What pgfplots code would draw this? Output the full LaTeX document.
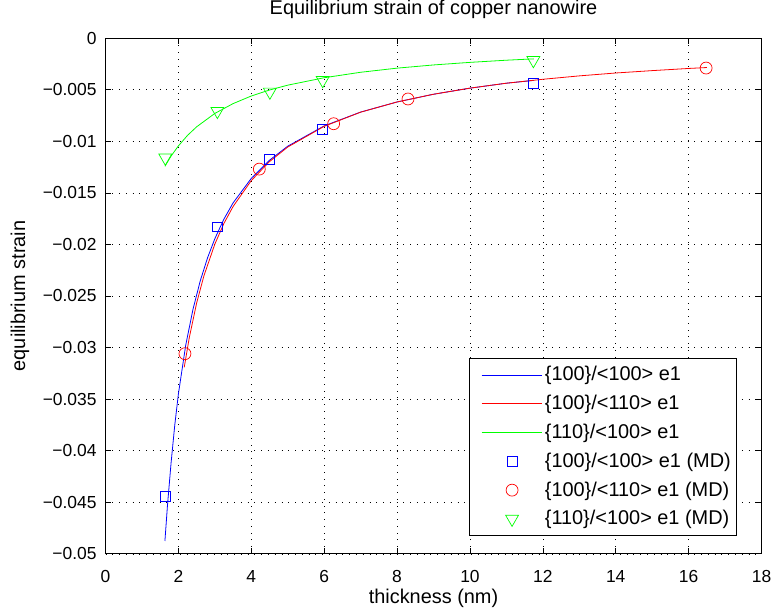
\documentclass[border=0pt]{standalone}
\usepackage{fontspec}
\setmainfont{Liberation Sans}
\usepackage{pgfplots}
\pgfplotsset{compat=1.18}
\begin{document}
\fontsize{17.5}{21}\selectfont
\begin{tikzpicture}
\begin{axis}[
  scale only axis,
  width=659pt, height=518pt,
  xmin=0, xmax=18, ymin=-0.05, ymax=0,
  xtick={0,2,4,6,8,10,12,14,16,18},
  ytick={-0.05,-0.045,-0.04,-0.035,-0.03,-0.025,-0.02,-0.015,-0.01,-0.005,0},
  yticklabels={−0.05,−0.045,−0.04,−0.035,−0.03,−0.025,−0.02,−0.015,−0.01,−0.005,0},
  scaled y ticks=false, scaled x ticks=false,
  /pgf/number format/assume math mode=true,
  tick label style={font=\fontsize{17.5}{21}\selectfont},
  xticklabel style={yshift=-11pt},
  yticklabel style={xshift=-3pt},
  label style={font=\fontsize{20}{24}\selectfont, inner sep=0pt},
  title style={font=\fontsize{20}{24}\selectfont, inner sep=0pt, at={(rel axis cs:0.5,1.0444)}, anchor=center},
  xlabel style={at={(rel axis cs:0.5,-0.0869)}, anchor=center},
  ylabel style={at={(rel axis cs:-0.1305,0.5)}, anchor=center, rotate=0},
  title={Equilibrium strain of copper nanowire},
  xlabel={thickness (nm)},
  ylabel={equilibrium strain},
  grid=major,
  major grid style={black, line width=0.5pt, dash pattern=on 0.8pt off 6pt},
  major tick length=6pt,
  tick style={black, line width=0.6pt},
  axis line style={black, line width=0.8pt},
  tick align=inside,
  xtick pos=both, ytick pos=both,
  legend style={at={(rel axis cs:0.962,0.035)}, anchor=south east,
    draw=black, fill=white, line width=0.6pt,
    font=\fontsize{20}{24}\selectfont,
    row sep=7.8pt, inner xsep=3.5pt, inner ysep=6pt},
  legend cell align=left,
]
% fitted curves
\addplot[blue, line width=0.8pt,
  legend image code/.code={\draw[blue, line width=0.9pt] (-9pt,0pt) (0pt,0pt) -- (61pt,0pt);}]
  coordinates {
  (1.63,-0.04876) (1.70,-0.04531) (1.80,-0.04115) (1.90,-0.03753) (2.00,-0.03450)
  (2.20,-0.02979) (2.40,-0.02630) (2.60,-0.02353) (2.80,-0.02130) (3.00,-0.01945)
  (3.25,-0.01754) (3.50,-0.01598) (4.00,-0.01360) (4.50,-0.01184) (5.00,-0.01048)
  (6.00,-0.00851) (7.00,-0.00717) (8.00,-0.00619) (9.00,-0.00544) (10.00,-0.00485)
  (11.00,-0.00437) (11.75,-0.00410)};
\addlegendentry{\{100\}/<100> e1}
\addplot[red, line width=0.8pt,
  legend image code/.code={\draw[red, line width=0.9pt] (-9pt,0pt) (0pt,0pt) -- (61pt,0pt);}]
  coordinates {
  (2.16,-0.03192) (2.30,-0.02902) (2.50,-0.02569) (2.70,-0.02305) (3.00,-0.01997)
  (3.25,-0.01796) (3.50,-0.01633) (4.00,-0.01381) (4.50,-0.01197) (5.00,-0.01056)
  (6.00,-0.00855) (7.00,-0.00718) (8.00,-0.00619) (9.00,-0.00544) (10.00,-0.00485)
  (11.00,-0.00437) (12.00,-0.00399) (13.00,-0.00366) (14.00,-0.00338) (15.00,-0.00315)
  (16.00,-0.00294) (16.50,-0.00285)};
\addlegendentry{\{100\}/<110> e1}
\addplot[green, line width=0.8pt,
  legend image code/.code={\draw[green, line width=0.9pt] (-9pt,0pt) (0pt,0pt) -- (61pt,0pt);}]
  coordinates {
  (1.63,-0.01243) (1.80,-0.01143) (2.00,-0.01045) (2.25,-0.00943) (2.50,-0.00860)
  (3.00,-0.00730) (3.50,-0.00635) (4.00,-0.00561) (4.50,-0.00503) (5.00,-0.00456)
  (6.00,-0.00384) (7.00,-0.00331) (8.00,-0.00291) (9.00,-0.00260) (10.00,-0.00235)
  (11.00,-0.00214) (11.75,-0.00201)};
\addlegendentry{\{110\}/<100> e1}
% MD data
\addplot[blue, only marks, mark=square, mark size=5pt, line width=0.7pt,
  legend image code/.code={\path (-9pt,0pt) (61pt,0pt); \draw[blue, line width=0.7pt] (25.5pt,-5pt) rectangle (35.5pt,5pt);}]
  coordinates {(1.64,-0.0444) (3.06,-0.0183) (4.50,-0.0118) (5.95,-0.00885) (11.73,-0.00435)};
\addlegendentry{\{100\}/<100> e1 (MD)}
\addplot[red, only marks, mark=o, mark size=6pt, line width=0.7pt,
  legend image code/.code={\path (-9pt,0pt) (61pt,0pt); \draw[red, line width=0.7pt] (30.5pt,0pt) circle[radius=6pt];}]
  coordinates {(2.18,-0.0306) (4.22,-0.0127) (6.26,-0.0083) (8.30,-0.0059) (16.48,-0.0029)};
\addlegendentry{\{100\}/<110> e1 (MD)}
\addplot[green, only marks, mark=triangle, mark size=7.5pt, line width=0.7pt,
  mark options={rotate=180},
  legend image code/.code={\path (-9pt,0pt) (61pt,0pt); \draw[green, line width=0.7pt] (30.5pt,-7.5pt) -- (36.995pt,3.75pt) -- (24.005pt,3.75pt) -- cycle;}]
  coordinates {(1.64,-0.0116) (3.07,-0.00708) (4.51,-0.00521) (5.96,-0.00409) (11.74,-0.00215)};
\addlegendentry{\{110\}/<100> e1 (MD)}
\end{axis}
\path ([shift={(-106pt,-58pt)}]current axis.south west) rectangle ([shift={(12pt,35pt)}]current axis.north east);
\end{tikzpicture}
\end{document}
